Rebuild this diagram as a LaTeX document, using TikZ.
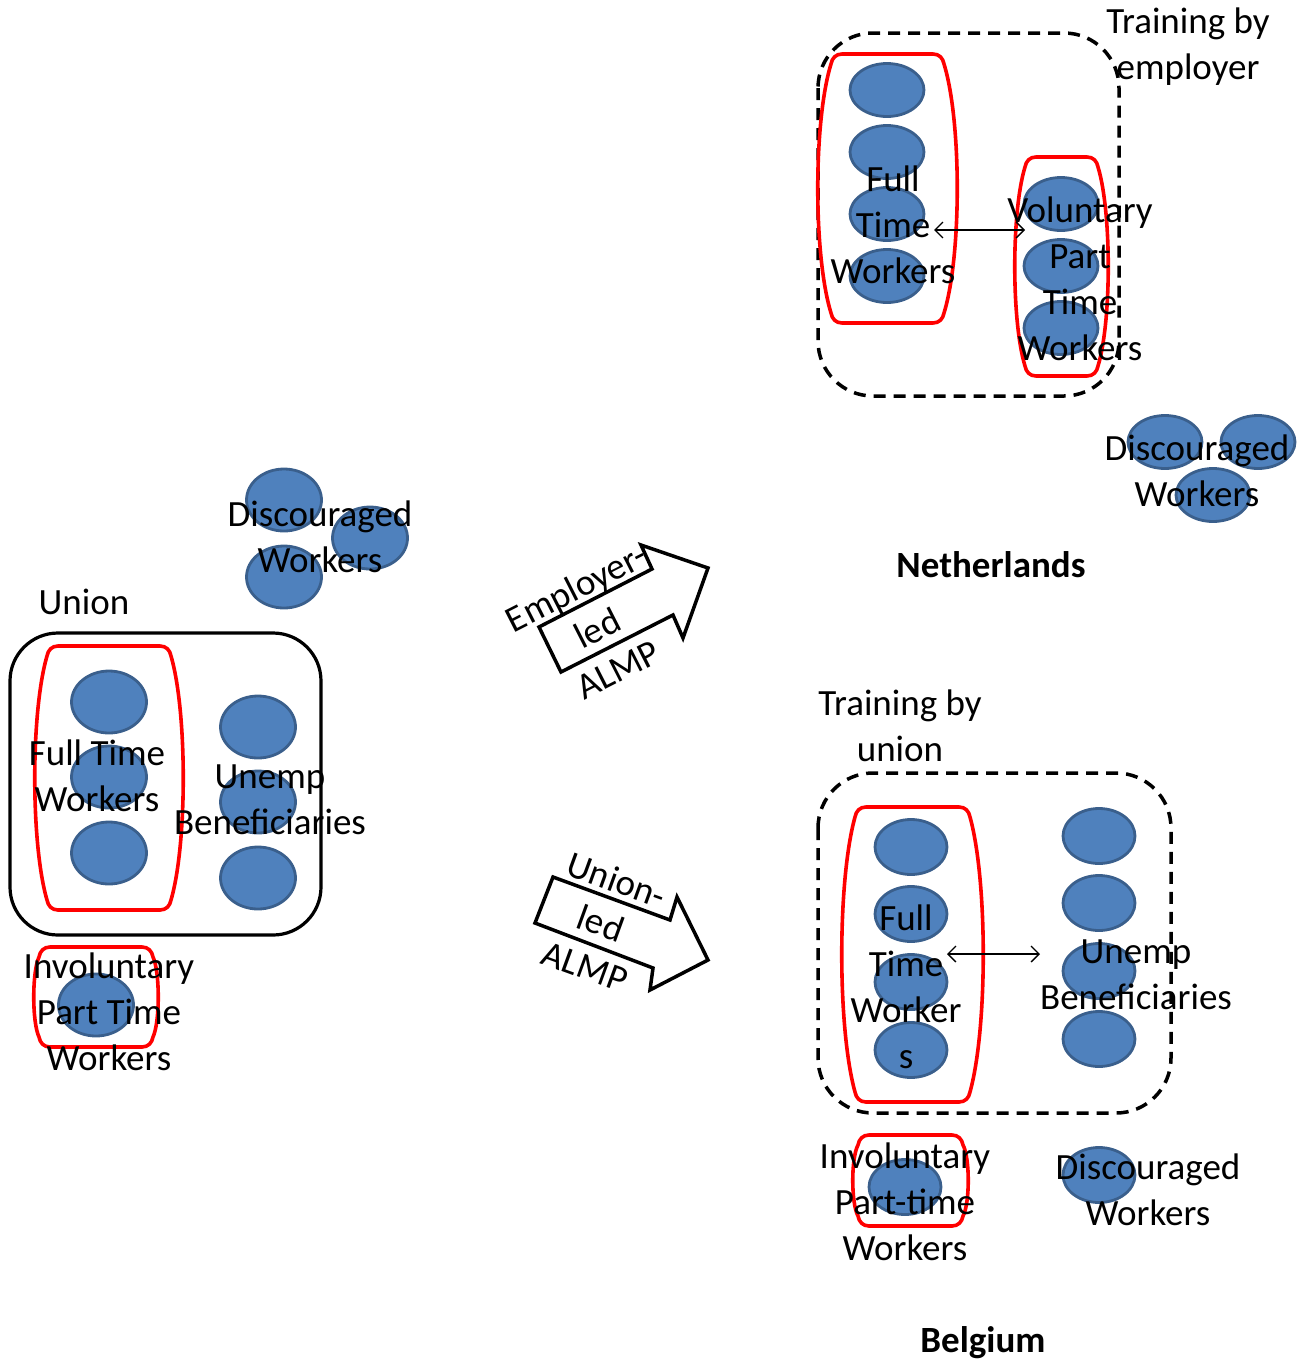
\documentclass[tikz,border=0pt]{standalone}
\usepackage{fontspec}
\setmainfont{Carlito}
\usetikzlibrary{shapes.geometric,arrows.meta}
\definecolor{blobfill}{HTML}{4F81BD}
\definecolor{blobedge}{HTML}{3A5F8C}
\definecolor{pillred}{HTML}{FF0000}

% rounded group outline with slightly bulging sides: x1,y1,x2,y2,bulge
\newcommand\pill[5]{%
  \draw[pillline] ({#1+#5+10},#2) -- ({#3-#5-10},#2)
    .. controls ({#3-#5-4},#2) and ({#3-#5},{#2+4}) .. ({#3-#5+1},{#2+10})
    .. controls ({#3+#5/3},{#2+(#4-#2)/4}) and ({#3+#5/3},{#4-(#4-#2)/4}) .. ({#3-#5+1},{#4-10})
    .. controls ({#3-#5},{#4-4}) and ({#3-#5-4},#4) .. ({#3-#5-10},#4)
    -- ({#1+#5+10},#4)
    .. controls ({#1+#5+4},#4) and ({#1+#5},{#4-4}) .. ({#1+#5-1},{#4-10})
    .. controls ({#1-#5/3},{#4-(#4-#2)/4}) and ({#1-#5/3},{#2+(#4-#2)/4}) .. ({#1+#5-1},{#2+10})
    .. controls ({#1+#5},{#2+4}) and ({#1+#5+4},#2) .. ({#1+#5+10},#2) -- cycle;}

\begin{document}
\begin{tikzpicture}[x=1pt,y=-1pt,
  blob/.style={ellipse, fill=blobfill, draw=blobedge, line width=2.8pt, inner sep=0pt,
               minimum width=74pt, minimum height=53pt},
  bigblob/.style={blob, minimum width=75pt, minimum height=62pt},
  midblob/.style={blob, minimum width=72pt, minimum height=55pt},
  lbl/.style={align=center, inner sep=0pt, font=\fontsize{37}{46}\selectfont},
  title/.style={lbl, font=\fontsize{37}{46}\selectfont\bfseries},
  pillline/.style={draw=pillred, line width=3.6pt, line join=round},
  unionbox/.style={draw=black, line width=3.2pt, rounded corners=48pt},
  trainbox/.style={draw=black, line width=3.5pt, dash pattern=on 12pt off 8pt, rounded corners=55pt},
  blockarrow/.style={draw=black, line width=3.5pt, fill=white, line join=miter},
  link/.style={draw=black, line width=1.3pt, {Straight Barb[length=8pt,width=16pt]}-{Straight Barb[length=8pt,width=16pt]}}
]
\useasboundingbox (0,0) rectangle (1311,1366);

% ---------------- starting situation ----------------
\node[bigblob] (dw1) at (284,500) {};
\node[bigblob] (dw2) at (370,538) {};
\node[bigblob] (dw3) at (284,577) {};
\node[lbl] (dwtext) at (320,537) {Discouraged\\Workers};

\node[lbl] (uniontext) at (84,602) {Union};
\draw[unionbox] (10,633) rectangle (321,935);
\pill{35}{646}{183}{910}{13}
\node[bigblob] (ft1) at (109,702) {};
\node[bigblob] (ft2) at (109,777) {};
\node[bigblob] (ft3) at (109,853) {};
\node[bigblob] (ub1) at (258,727) {};
\node[bigblob] (ub2) at (258,802) {};
\node[bigblob] (ub3) at (258,878) {};
\node[lbl] (fttext) at (97,776) {Full Time\\Workers};
\node[lbl] (ubtext) at (270,800) {Unemp\\Beneficiaries};

\pill{34}{947}{158}{1047}{6}
\node[bigblob] (ipt) at (96,1005) {};
\node[lbl] (ipttext) at (109,1012) {Involuntary\\Part Time\\Workers};

% ---------------- policy arrows ----------------
\coordinate (ea1) at (539,627); \coordinate (ea2) at (652,569);
\coordinate (ea3) at (641,545); \coordinate (ea4) at (708,568);
\coordinate (ea5) at (683,638); \coordinate (ea6) at (673,615);
\coordinate (ea7) at (561,672);
\draw[blockarrow] (ea1) -- (ea2) -- (ea3) -- (ea4) -- (ea5) -- (ea6) -- (ea7) -- cycle;
\node[lbl, rotate=27] (eatext) at (597,628) {Employer-\\led\\ALMP};

\coordinate (ua1) at (553,877); \coordinate (ua2) at (670,920);
\coordinate (ua3) at (677,897); \coordinate (ua4) at (708,960);
\coordinate (ua5) at (650,990); \coordinate (ua6) at (653,968);
\coordinate (ua7) at (535,923);
\draw[blockarrow] (ua1) -- (ua2) -- (ua3) -- (ua4) -- (ua5) -- (ua6) -- (ua7) -- cycle;
\node[lbl, rotate=-20] (uatext) at (601,923) {Union-\\led\\ALMP};

% ---------------- Netherlands ----------------
\node[lbl] (nltrain) at (1188,47) {Training by\\employer};
\draw[trainbox] (818,33) rectangle (1119,396);
\pill{818}{54}{957}{323}{14}
\pill{1015}{157}{1108}{376}{11}
\node[blob] (nlft1) at (887,90) {};
\node[blob] (nlft2) at (887,152) {};
\node[blob] (nlft3) at (887,214) {};
\node[blob] (nlft4) at (887,276) {};
\node[blob] (nlvp1) at (1061,204) {};
\node[blob] (nlvp2) at (1061,266) {};
\node[blob] (nlvp3) at (1061,328) {};
\node[lbl] (nlfttext) at (893,225) {Full\\Time\\Workers};
\node[lbl] (nlvptext) at (1080,279) {Voluntary\\Part\\Time\\Workers};
\coordinate (nlL) at (934,230);
\coordinate (nlR) at (1025,230);
\draw[link] (nlL) -- (nlR);

\node[blob] (nldw1) at (1165,442) {};
\node[blob] (nldw2) at (1258,442) {};
\node[blob] (nldw3) at (1213,495) {};
\node[lbl] (nldwtext) at (1197,471) {Discouraged\\Workers};
\node[title] (nltitle) at (991,565) {Netherlands};

% ---------------- Belgium ----------------
\node[lbl] (betrain) at (900,726) {Training by\\union};
\draw[trainbox] (818,773) rectangle (1171,1113);
\pill{842}{807}{983}{1102}{14}
\node[midblob] (beft1) at (911,847) {};
\node[midblob] (beft2) at (911,914) {};
\node[midblob] (beft3) at (911,982) {};
\node[midblob] (beft4) at (911,1050) {};
\node[midblob] (beub1) at (1099,836) {};
\node[midblob] (beub2) at (1099,903) {};
\node[midblob] (beub3) at (1099,971) {};
\node[midblob] (beub4) at (1099,1039) {};
\node[lbl] (befttext) at (906,987) {Full\\Time\\Worker\\s};
\node[lbl] (beubtext) at (1136,975) {Unemp\\Beneficiaries};
\coordinate (beL) at (947,954);
\coordinate (beR) at (1040,954);
\draw[link] (beL) -- (beR);

\pill{853}{1135}{968}{1226}{6}
\node[midblob] (beipt) at (905,1187) {};
\node[lbl] (beipttext) at (905,1202) {Involuntary\\Part-time\\Workers};
\node[midblob] (bedw) at (1099,1175) {};
\node[lbl] (bedwtext) at (1148,1190) {Discouraged\\Workers};
\node[title] (betitle) at (983,1343) {Belgium};
\end{tikzpicture}
\end{document}
